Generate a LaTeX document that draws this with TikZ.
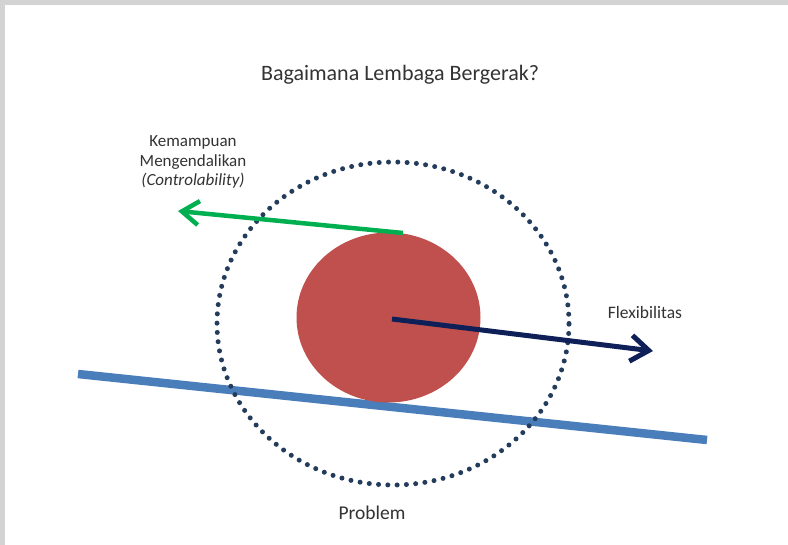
\documentclass[tikz,border=0pt]{standalone}
\usepackage{fontspec}
\setmainfont{Carlito}
\usetikzlibrary{arrows.meta,shapes.geometric}
\definecolor{framegray}{HTML}{D3D3D3}
\definecolor{txtgray}{HTML}{333333}
\definecolor{redfill}{HTML}{C0504D}
\definecolor{bluebar}{HTML}{4A7EBB}
\definecolor{greenarr}{HTML}{00B050}
\definecolor{navyarr}{HTML}{0F2058}
\definecolor{dotcol}{HTML}{243C5C}
\tikzset{
  lbl/.style={text=txtgray, inner sep=0pt, align=center},
  dotring/.style={ellipse, draw=dotcol, line width=5pt, line cap=round,
    dash pattern=on 0pt off 9.3pt, minimum width=352pt, minimum height=323pt, inner sep=0pt},
  ball/.style={ellipse, fill=redfill, minimum width=184pt, minimum height=170pt, inner sep=0pt},
  greenarrow/.style={draw=greenarr, line width=4.5pt,
    -{Straight Barb[length=17pt,width=24pt,line width=4.5pt]}},
  navyarrow/.style={draw=navyarr, line width=5pt,
    -{Straight Barb[length=18pt,width=26pt,line width=5pt]}},
  bar/.style={draw=bluebar, line width=8.5pt}
}
\begin{document}
\begin{tikzpicture}[x=1pt,y=-1pt]
\useasboundingbox (0,0) rectangle (788,545);
\fill[framegray] (0,0) rectangle (788,545);
\fill[white] (5,5) rectangle (788,545);
% title
\node[lbl, font=\fontsize{22}{26}\selectfont] (title) at (400,75) {Bagaimana Lembaga Bergerak?};
% problem surface
\coordinate (barL) at (78,374);
\coordinate (barR) at (707,440);
\draw[bar] (barL) -- (barR);
% ball
\node[ball] (ball) at (388.5,317.5) {};
% dotted ring
\node[dotring] (ring) at (393,323.5) {};
% arrows
\coordinate (gstart) at (403,233);
\coordinate (gend) at (178,211);
\draw[greenarrow] (gstart) -- (gend);
\coordinate (nstart) at (392,319);
\coordinate (nend) at (653,351);
\draw[navyarrow] (nstart) -- (nend);
% labels
\node[lbl, font=\fontsize{17}{19.5}\selectfont] (ctrl) at (193,162) {Kemampuan\\Mengendalikan\\\textit{(Controlability)}};
\node[lbl, font=\fontsize{17.5}{21}\selectfont] (flex) at (645,312) {Flexibilitas};
\node[lbl, font=\fontsize{19.5}{23}\selectfont] (prob) at (372,513) {Problem};
\end{tikzpicture}
\end{document}
